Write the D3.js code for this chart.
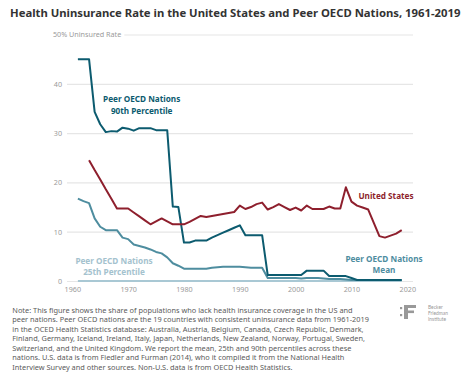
<!DOCTYPE html>
<html><head><meta charset="utf-8">
<script src="https://cdn.jsdelivr.net/npm/d3@7"></script>
<style>
html,body{margin:0;padding:0;background:#fff;}
svg{display:block;}
</style></head>
<body>
<svg id="chart" width="474" height="378"></svg>
<script>
const years = [1961,1962,1963,1964,1965,1966,1967,1968,1969,1970,1971,1972,1973,1974,1975,1976,1977,1978,1979,1980,1981,1982,1983,1984,1985,1986,1987,1988,1989,1990,1991,1992,1993,1994,1995,1996,1997,1998,1999,2000,2001,2002,2003,2004,2005,2006,2007,2008,2009,2010,2011,2012,2013,2014,2015,2016,2017,2018,2019];
const unitedStates = [null,null,24.5,22.5,20.6,18.6,16.7,14.7,14.7,14.7,13.9,13.1,12.3,11.5,12.1,12.7,12.1,11.5,11.5,11.5,12.0,12.6,13.2,13.0,13.2,13.4,13.6,13.8,14.0,15.3,14.6,15.0,15.6,15.9,14.5,15.0,15.6,15.0,14.4,14.9,14.3,15.3,14.6,14.6,14.6,15.1,14.7,14.7,19.0,16.1,15.3,14.9,14.5,11.8,9.1,8.8,9.2,9.6,10.3];
const peer90th = [45.0,45.0,45.0,34.3,31.8,30.2,30.4,30.3,31.1,30.9,30.5,31.0,31.0,31.0,30.6,30.6,30.6,15.1,15.0,7.8,7.8,8.2,8.2,8.2,8.8,9.3,9.8,10.3,10.8,11.3,9.3,9.3,9.3,9.3,1.2,1.2,1.2,1.2,1.2,1.2,1.2,2.1,2.1,2.1,2.1,1.0,1.0,1.0,1.0,0.6,0.2,0.2,0.2,0.2,0.2,0.2,0.2,0.2,0.2];
const peerMean = [16.7,16.2,15.8,12.7,11.0,10.3,10.3,10.3,8.8,8.5,7.4,7.1,6.8,6.4,5.9,5.6,4.8,3.6,3.1,2.5,2.5,2.5,2.5,2.5,2.7,2.8,2.9,2.9,2.9,2.9,2.8,2.7,2.7,2.7,0.6,0.6,0.6,0.6,0.6,0.6,0.5,0.6,0.6,0.6,0.5,0.4,0.4,0.4,0.3,0.2,0.2,0.2,0.2,0.2,0.2,0.2,0.2,0.2,0.2];
const peer25th = [0,0,0,0,0,0,0,0,0,0,0,0,0,0,0,0,0,0,0,0,0,0,0,0,0,0,0,0,0,0,0,0,0,0,0,0,0,0,0,0,0,0,0,0,0,0,0,0,0,0,0,0,0,0,0,0,0,0,0];
const xTicks = [1960,1970,1980,1990,2000,2010,2020];
const yTicks = [0,10,20,30,40,50];
const titleText = "Health Uninsurance Rate in the United States and Peer OECD Nations, 1961-2019";
const noteLines = [
 "Note: This figure shows the share of populations who lack health insurance coverage in the US and",
 "peer nations. Peer OECD nations are the 19 countries with consistent uninsurance data from 1961-2019",
 "in the OCED Health Statistics database: Australia, Austria, Belgium, Canada, Czech Republic, Denmark,",
 "Finland, Germany, Iceland, Ireland, Italy, Japan, Netherlands, New Zealand, Norway, Portugal, Sweden,",
 "Switzerland, and the United Kingdom. We report the mean, 25th and 90th percentiles across these",
 "nations. U.S. data is from Fiedler and Furman (2014), who it compiled it from the National Health",
 "Interview Survey and other sources. Non-U.S. data is from OECD Health Statistics."
];
const logoLines = ["Becker","Friedman","Institute"];

const svg = d3.select("#chart");
const FONT = "'Noto Sans', 'Open Sans', sans-serif";

// Title
const title = svg.append("text").attr("x",10).attr("y",17)
  .attr("font-family",FONT).attr("font-weight",700).attr("font-size",12)
  .attr("fill","#333").text(titleText);
{ const w = title.node().getComputedTextLength(); title.attr("font-size", 12*451/w); }

const x = d3.scaleLinear().domain([1960,2020]).range([72.3,407.3]);
const y = d3.scaleLinear().domain([0,50]).range([281,34.5]);
const gridLeft = 67, gridRight = 413;

// Y axis w/ gridlines
const yAxis = d3.axisLeft(y).tickValues(yTicks)
  .tickSize(-(gridRight-gridLeft)).tickPadding(5)
  .tickFormat(d => d===50 ? "50% Uninsured Rate" : d);
const yg = svg.append("g").attr("transform",`translate(${gridLeft},0)`).call(yAxis);
yg.select(".domain").remove();
yg.selectAll(".tick line").attr("stroke","#e6e6e6").attr("stroke-width",1.2);
yg.selectAll(".tick text").attr("font-family",FONT).attr("font-size",7.2).attr("fill","#9a9a9a");
yg.selectAll(".tick").filter(d=>d===50).each(function(){
  const g = d3.select(this);
  g.select("text").attr("text-anchor","start").attr("x",-14);
  const tw = g.select("text").node().getComputedTextLength();
  g.select("line").attr("x1", -14 + tw + 3);
});

// X axis
const xAxis = d3.axisBottom(x).tickValues(xTicks).tickSize(0).tickPadding(5).tickFormat(d3.format("d"));
const xg = svg.append("g").attr("transform","translate(0,282)").call(xAxis);
xg.select(".domain").remove();
xg.selectAll(".tick text").attr("font-family",FONT).attr("font-size",7.2).attr("fill","#9a9a9a");

// Lines
const line = d3.line().defined(d=>d[1]!=null).x(d=>x(d[0])).y(d=>y(d[1]));
const series = [
  {vals:peer25th, color:"#a9c8d4"},
  {vals:peerMean, color:"#4e8d9f"},
  {vals:peer90th, color:"#0c5b6f"},
  {vals:unitedStates, color:"#8e1f2d"}
];
series.forEach(s=>{
  svg.append("path").datum(years.map((yr,i)=>[yr,s.vals[i]]))
    .attr("d",line).attr("fill","none").attr("stroke",s.color)
    .attr("stroke-width",2).attr("stroke-linejoin","round");
});

// Labels
function label(lines, cx, cy, color){
  const t = svg.append("text").attr("text-anchor","middle")
    .attr("font-family",FONT).attr("font-weight",700).attr("font-size",8.2).attr("fill",color);
  lines.forEach((l,i)=>t.append("tspan").attr("x",cx).attr("y",cy+i*11.3).text(l));
  // widen to match the reference's wide typeface
  const first = t.select("tspan").node();
  const w = first.getComputedTextLength();
  const target = lines[0]==="United States" ? 53.4 : 76.7;
  const n = lines[0].length;
  t.attr("letter-spacing", Math.max(0,(target-w)/n));
}
label(["Peer OECD Nations","90th Percentile"],141.7,102.3,"#0c5b6f");
label(["Peer OECD Nations","25th Percentile"],114,264,"#a4c2ce");
label(["Peer OECD Nations","Mean"],384,262,"#4e8d9f");
label(["United States"],386,199,"#8e1f2d");

// Note
const note = svg.append("text").attr("font-family",FONT).attr("font-size",7.2).attr("fill","#5a5a5a");
noteLines.forEach((l,i)=>note.append("tspan").attr("x",12.3).attr("y",312.6+i*9.5).text(l));
{ const t4 = note.selectAll("tspan").nodes()[3]; const w = t4.getComputedTextLength(); note.attr("font-size",7.2*352.5/w); }

// Logo
const lg = svg.append("g").attr("fill","#999");
lg.append("rect").attr("x",400).attr("y",307).attr("width",2.2).attr("height",2.2);
lg.append("rect").attr("x",400).attr("y",314).attr("width",2.2).attr("height",2.2);
lg.append("rect").attr("x",404).attr("y",305).attr("width",4).attr("height",14);
lg.append("rect").attr("x",404).attr("y",305).attr("width",12).attr("height",3);
lg.append("rect").attr("x",404).attr("y",310.5).attr("width",10).attr("height",2.6);
const lt = svg.append("text").attr("font-family","Lato, sans-serif").attr("font-size",4.9).attr("fill","#999");
logoLines.forEach((l,i)=>lt.append("tspan").attr("x",428).attr("y",309+i*6).text(l));
</script>
</body></html>
